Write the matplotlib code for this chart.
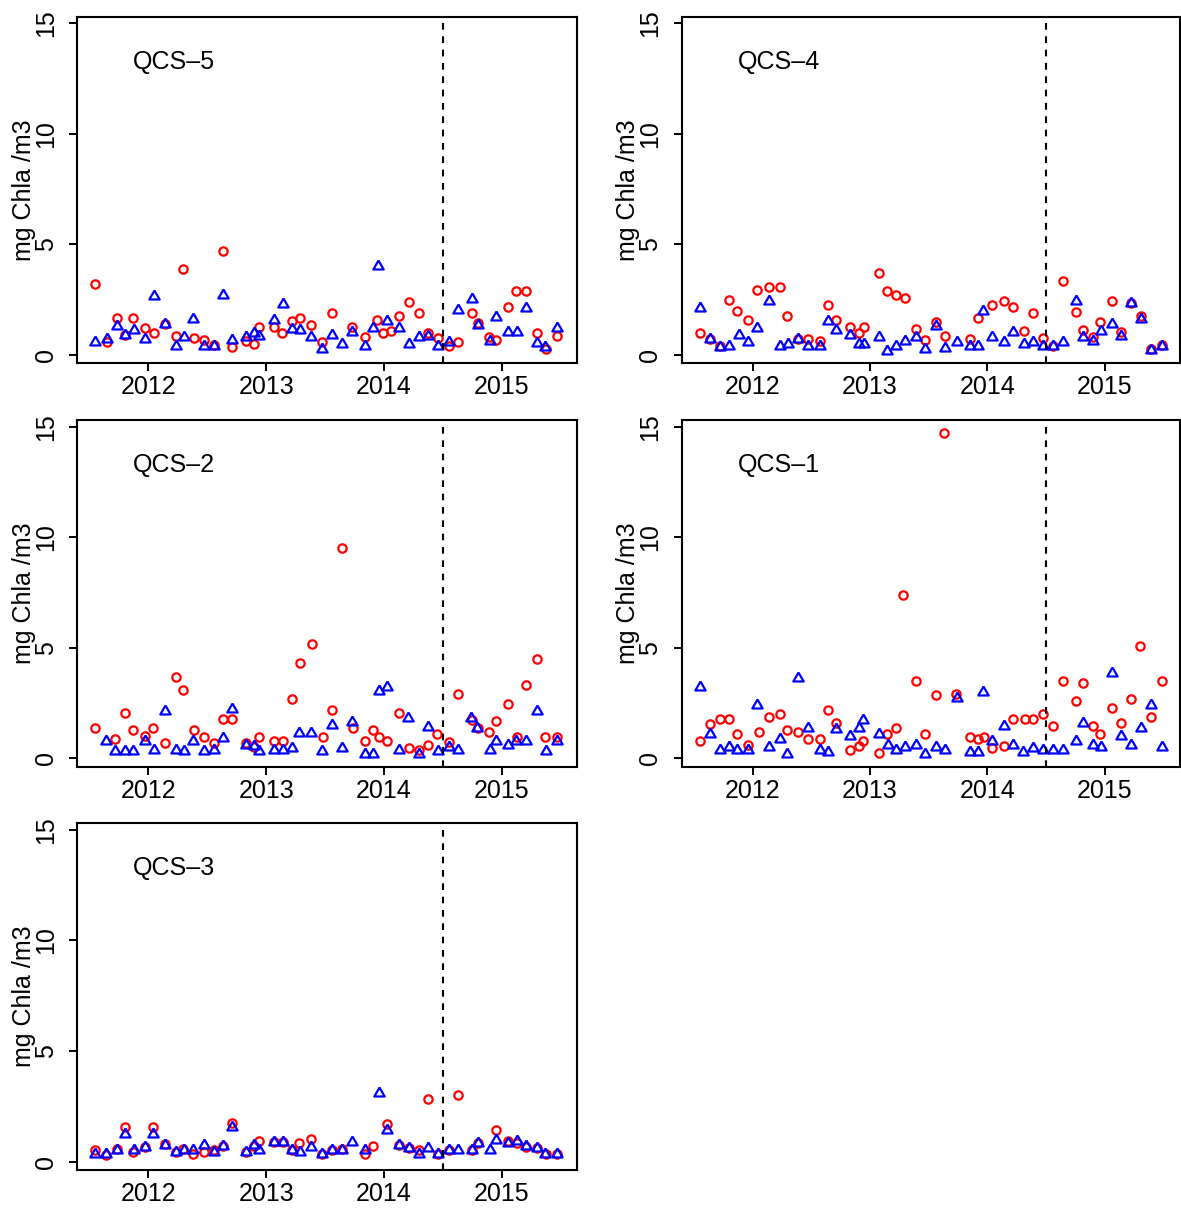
import matplotlib
matplotlib.use("Agg")
import matplotlib.pyplot as plt
from matplotlib.ticker import FixedLocator

plt.rcParams['font.family'] = ['Liberation Sans', 'DejaVu Sans']

# ---- data (decimal year, mg Chla /m3) ----
qcs5_red_t = [2011.55, 2011.65, 2011.73, 2011.80, 2011.87, 2011.97, 2012.05, 2012.14, 2012.23, 2012.29,
              2012.39, 2012.47, 2012.56, 2012.63, 2012.71, 2012.83, 2012.90, 2012.94, 2013.07, 2013.13,
              2013.22, 2013.29, 2013.38, 2013.47, 2013.56, 2013.73, 2013.84, 2013.94, 2013.99, 2014.06,
              2014.13, 2014.21, 2014.30, 2014.37, 2014.46, 2014.55, 2014.63, 2014.75, 2014.80, 2014.89,
              2014.95, 2015.05, 2015.12, 2015.21, 2015.30, 2015.38, 2015.47]
qcs5_red = [3.18, 0.59, 1.67, 0.91, 1.67, 1.20, 0.98, 1.39, 0.85, 3.86,
            0.77, 0.67, 0.44, 4.68, 0.33, 0.64, 0.48, 1.24, 1.26, 0.98,
            1.52, 1.67, 1.35, 0.59, 1.88, 1.27, 0.79, 1.58, 0.98, 1.09,
            1.77, 2.38, 1.88, 0.98, 0.74, 0.41, 0.58, 1.88, 1.44, 0.79,
            0.67, 2.15, 2.86, 2.86, 0.97, 0.26, 0.83]
qcs5_blue_t = [2011.55, 2011.65, 2011.73, 2011.80, 2011.88, 2011.97, 2012.05, 2012.14, 2012.23, 2012.30,
               2012.38, 2012.47, 2012.56, 2012.63, 2012.71, 2012.83, 2012.90, 2012.94, 2013.07, 2013.14,
               2013.22, 2013.29, 2013.38, 2013.47, 2013.56, 2013.64, 2013.73, 2013.84, 2013.91, 2013.95,
               2014.03, 2014.13, 2014.21, 2014.30, 2014.37, 2014.46, 2014.55, 2014.63, 2014.75, 2014.80,
               2014.90, 2014.95, 2015.05, 2015.13, 2015.21, 2015.30, 2015.37, 2015.47]
qcs5_blue = [0.59, 0.71, 1.32, 0.89, 1.12, 0.71, 2.64, 1.39, 0.41, 0.79,
             1.62, 0.41, 0.41, 2.71, 0.68, 0.82, 0.97, 0.86, 1.58, 2.30,
             1.17, 1.12, 0.79, 0.26, 0.89, 0.48, 1.02, 0.41, 1.21, 4.02,
             1.52, 1.21, 0.48, 0.82, 0.86, 0.41, 0.56, 2.03, 2.53, 1.36,
             0.64, 1.70, 1.05, 1.05, 2.11, 0.52, 0.33, 1.20]

qcs4_red_t = [2011.55, 2011.64, 2011.72, 2011.80, 2011.87, 2011.96, 2012.04, 2012.14, 2012.23, 2012.29,
              2012.39, 2012.47, 2012.57, 2012.64, 2012.71, 2012.83, 2012.91, 2012.95, 2013.08, 2013.14,
              2013.22, 2013.30, 2013.39, 2013.47, 2013.56, 2013.64, 2013.85, 2013.92, 2014.04, 2014.14,
              2014.22, 2014.31, 2014.39, 2014.47, 2014.56, 2014.64, 2014.75, 2014.81, 2014.90, 2014.96,
              2015.06, 2015.14, 2015.22, 2015.31, 2015.39, 2015.49]
qcs4_red = [0.97, 0.71, 0.41, 2.48, 2.00, 1.58, 2.95, 3.06, 3.06, 1.77,
            0.71, 0.71, 0.64, 2.27, 1.58, 1.24, 0.97, 1.27, 3.70, 2.86,
            2.68, 2.56, 1.17, 0.68, 1.47, 0.86, 0.71, 1.65, 2.27, 2.41,
            2.15, 1.09, 1.88, 0.74, 0.41, 3.32, 1.95, 1.12, 0.79, 1.50,
            2.41, 1.02, 2.35, 1.77, 0.26, 0.44]
qcs4_blue_t = [2011.55, 2011.64, 2011.72, 2011.80, 2011.88, 2011.96, 2012.04, 2012.14, 2012.23, 2012.30,
               2012.39, 2012.47, 2012.57, 2012.64, 2012.71, 2012.83, 2012.91, 2012.95, 2013.08, 2013.14,
               2013.22, 2013.30, 2013.39, 2013.47, 2013.56, 2013.64, 2013.74, 2013.85, 2013.92, 2013.96,
               2014.04, 2014.14, 2014.22, 2014.31, 2014.39, 2014.47, 2014.56, 2014.64, 2014.75, 2014.81,
               2014.90, 2014.97, 2015.06, 2015.14, 2015.22, 2015.31, 2015.39, 2015.49]
qcs4_blue = [2.11, 0.71, 0.36, 0.38, 0.89, 0.59, 1.21, 2.45, 0.38, 0.48,
             0.71, 0.38, 0.38, 1.52, 1.12, 0.89, 0.48, 0.48, 0.79, 0.15,
             0.38, 0.61, 0.79, 0.26, 1.32, 0.30, 0.59, 0.38, 0.38, 2.00,
             0.79, 0.59, 1.02, 0.48, 0.59, 0.38, 0.38, 0.59, 2.45, 0.82,
             0.64, 1.09, 1.39, 0.86, 2.33, 1.62, 0.21, 0.41]

qcs2_red_t = [2011.55, 2011.72, 2011.80, 2011.87, 2011.97, 2012.04, 2012.14, 2012.23, 2012.29, 2012.39,
              2012.47, 2012.56, 2012.63, 2012.71, 2012.83, 2012.90, 2012.94, 2013.07, 2013.14, 2013.22,
              2013.29, 2013.39, 2013.48, 2013.56, 2013.64, 2013.74, 2013.84, 2013.91, 2013.96, 2014.03,
              2014.13, 2014.21, 2014.30, 2014.37, 2014.45, 2014.55, 2014.63, 2014.75, 2014.80, 2014.89,
              2014.95, 2015.05, 2015.13, 2015.21, 2015.30, 2015.37, 2015.47]
qcs2_red = [1.38, 0.88, 2.06, 1.27, 1.00, 1.38, 0.70, 3.68, 3.08, 1.27,
            0.95, 0.70, 1.76, 1.76, 0.67, 0.50, 0.95, 0.77, 0.77, 2.67,
            4.29, 5.17, 0.95, 2.17, 9.51, 1.35, 0.77, 1.27, 0.95, 0.77,
            2.06, 0.47, 0.36, 0.58, 1.08, 0.73, 2.89, 1.71, 1.38, 1.20,
            1.68, 2.47, 0.95, 3.30, 4.48, 0.95, 0.95]
qcs2_blue_t = [2011.64, 2011.72, 2011.80, 2011.87, 2011.97, 2012.05, 2012.14, 2012.23, 2012.30, 2012.38,
               2012.47, 2012.56, 2012.63, 2012.71, 2012.83, 2012.90, 2012.94, 2013.07, 2013.14, 2013.22,
               2013.28, 2013.38, 2013.47, 2013.56, 2013.64, 2013.73, 2013.84, 2013.91, 2013.96, 2014.03,
               2014.13, 2014.20, 2014.30, 2014.37, 2014.46, 2014.55, 2014.63, 2014.74, 2014.79, 2014.90,
               2014.95, 2015.05, 2015.12, 2015.21, 2015.30, 2015.38, 2015.47]
qcs2_blue = [0.80, 0.32, 0.32, 0.32, 0.80, 0.39, 2.14, 0.39, 0.32, 0.80,
             0.32, 0.39, 0.92, 2.21, 0.59, 0.55, 0.32, 0.39, 0.39, 0.47,
             1.12, 1.12, 0.32, 1.50, 0.44, 1.64, 0.20, 0.20, 3.02, 3.20,
             0.39, 1.80, 0.20, 1.41, 0.32, 0.50, 0.39, 1.80, 1.35, 0.39,
             0.80, 0.62, 0.80, 0.80, 2.14, 0.32, 0.77]

qcs1_red_t = [2011.55, 2011.64, 2011.72, 2011.80, 2011.87, 2011.96, 2012.05, 2012.14, 2012.23, 2012.29,
              2012.39, 2012.47, 2012.57, 2012.64, 2012.71, 2012.83, 2012.91, 2012.94, 2013.08, 2013.14,
              2013.22, 2013.28, 2013.39, 2013.47, 2013.56, 2013.63, 2013.73, 2013.85, 2013.92, 2013.97,
              2014.04, 2014.14, 2014.22, 2014.32, 2014.39, 2014.47, 2014.56, 2014.64, 2014.75, 2014.81,
              2014.90, 2014.96, 2015.06, 2015.14, 2015.22, 2015.30, 2015.39, 2015.49]
qcs1_red = [0.77, 1.56, 1.79, 1.79, 1.08, 0.62, 1.18, 1.86, 1.98, 1.27,
            1.18, 0.88, 0.88, 2.17, 1.61, 0.39, 0.55, 0.77, 0.24, 1.08,
            1.38, 7.39, 3.50, 1.08, 2.86, 14.73, 2.92, 0.95, 0.85, 0.95,
            0.47, 0.55, 1.79, 1.79, 1.79, 1.98, 1.45, 3.50, 2.59, 3.39,
            1.45, 1.08, 2.26, 1.61, 2.70, 5.09, 1.88, 3.50]
qcs1_blue_t = [2011.55, 2011.64, 2011.72, 2011.80, 2011.87, 2011.96, 2012.04, 2012.14, 2012.23, 2012.29,
               2012.39, 2012.47, 2012.57, 2012.64, 2012.71, 2012.83, 2012.91, 2012.94, 2013.08, 2013.15,
               2013.22, 2013.30, 2013.39, 2013.47, 2013.56, 2013.64, 2013.74, 2013.85, 2013.92, 2013.96,
               2014.04, 2014.14, 2014.22, 2014.30, 2014.39, 2014.47, 2014.56, 2014.64, 2014.75, 2014.81,
               2014.90, 2014.97, 2015.06, 2015.14, 2015.22, 2015.31, 2015.39, 2015.49]
qcs1_blue = [3.20, 1.08, 0.39, 0.50, 0.39, 0.39, 2.39, 0.50, 0.85, 0.21,
             3.61, 1.38, 0.39, 0.29, 1.30, 1.00, 1.38, 1.71, 1.11, 0.58,
             0.39, 0.50, 0.58, 0.20, 0.50, 0.39, 2.71, 0.27, 0.27, 3.00,
             0.77, 1.45, 0.58, 0.27, 0.47, 0.39, 0.39, 0.39, 0.80, 1.61,
             0.62, 0.50, 3.85, 1.00, 0.58, 1.38, 2.39, 0.50]

qcs3_red_t = [2011.55, 2011.64, 2011.73, 2011.80, 2011.87, 2011.97, 2012.04, 2012.14, 2012.23, 2012.29,
              2012.38, 2012.47, 2012.56, 2012.63, 2012.71, 2012.83, 2012.90, 2012.94, 2013.07, 2013.14,
              2013.22, 2013.28, 2013.38, 2013.47, 2013.56, 2013.64, 2013.84, 2013.91, 2014.03, 2014.13,
              2014.21, 2014.30, 2014.37, 2014.46, 2014.55, 2014.63, 2014.75, 2014.80, 2014.95, 2015.05,
              2015.13, 2015.21, 2015.30, 2015.38, 2015.47]
qcs3_red = [0.53, 0.30, 0.58, 1.56, 0.42, 0.65, 1.56, 0.77, 0.45, 0.58,
            0.32, 0.42, 0.50, 0.68, 1.74, 0.42, 0.70, 0.92, 0.88, 0.88,
            0.53, 0.83, 1.03, 0.35, 0.50, 0.58, 0.35, 0.68, 1.71, 0.73,
            0.61, 0.53, 2.82, 0.35, 0.53, 3.03, 0.53, 0.83, 1.41, 0.92,
            0.83, 0.65, 0.61, 0.32, 0.35]
qcs3_blue_t = [2011.55, 2011.64, 2011.73, 2011.80, 2011.88, 2011.97, 2012.04, 2012.14, 2012.23, 2012.30,
               2012.38, 2012.47, 2012.56, 2012.63, 2012.71, 2012.83, 2012.90, 2012.94, 2013.07, 2013.14,
               2013.22, 2013.29, 2013.38, 2013.47, 2013.56, 2013.64, 2013.73, 2013.84, 2013.96, 2014.03,
               2014.13, 2014.21, 2014.30, 2014.37, 2014.46, 2014.55, 2014.63, 2014.75, 2014.80, 2014.90,
               2014.95, 2015.05, 2015.13, 2015.21, 2015.30, 2015.37, 2015.47]
qcs3_blue = [0.32, 0.32, 0.53, 1.26, 0.53, 0.65, 1.23, 0.76, 0.42, 0.53,
             0.50, 0.76, 0.42, 0.68, 1.56, 0.42, 0.73, 0.53, 0.88, 0.88,
             0.53, 0.42, 0.65, 0.32, 0.50, 0.50, 0.88, 0.50, 3.08, 1.41,
             0.73, 0.61, 0.35, 0.61, 0.35, 0.53, 0.53, 0.53, 0.83, 0.53,
             0.98, 0.83, 0.91, 0.68, 0.61, 0.35, 0.35]

panels = [
    ("QCS\u20135", qcs5_red_t, qcs5_red, qcs5_blue_t, qcs5_blue),
    ("QCS\u20134", qcs4_red_t, qcs4_red, qcs4_blue_t, qcs4_blue),
    ("QCS\u20132", qcs2_red_t, qcs2_red, qcs2_blue_t, qcs2_blue),
    ("QCS\u20131", qcs1_red_t, qcs1_red, qcs1_blue_t, qcs1_blue),
    ("QCS\u20133", qcs3_red_t, qcs3_red, qcs3_blue_t, qcs3_blue),
]
years = [2012, 2013, 2014, 2015]
yticks = [0, 5, 10, 15]
split_date = 2014.5

# ---- layout (pixel boxes of the original R figure) ----
W, H = 1181, 1208
col_left = [77.3, 681.7]
col_width = [499.2, 497.8]
row_top = [16.5, 420.0, 823.3]
row_height = 346.5

tri = [(0, 1.0), (-0.866, -0.5), (0.866, -0.5), (0, 1.0)]

fig = plt.figure(figsize=(W / 100, H / 100), dpi=100)

for i, (name, rt, rv, bt, bv) in enumerate(panels):
    r, c = divmod(i, 2)
    rect = [col_left[c] / W, 1 - (row_top[r] + row_height) / H,
            col_width[c] / W, row_height / H]
    ax = fig.add_axes(rect)

    ax.plot(rt, rv, linestyle='none', marker='o', ms=6.0, mfc='none',
            mec='#ff0000', mew=1.6)
    ax.plot(bt, bv, linestyle='none', marker=tri, ms=8.6, mfc='none',
            mec='#0000ff', mew=1.6)
    ax.axvline(split_date, color='black', lw=1.5, dashes=(3.2, 3.2))

    ax.set_xlim(2011.396, 2015.635)
    ax.set_ylim(-0.375, 15.3)
    ax.xaxis.set_major_locator(FixedLocator(years))
    ax.yaxis.set_major_locator(FixedLocator(yticks))
    ax.set_xticklabels([str(y) for y in years])
    ax.set_yticklabels([str(v) for v in yticks], rotation=90, va='center')
    ax.tick_params(axis='both', labelsize=18, length=6, width=1.4,
                   direction='out', color='black')
    ax.tick_params(axis='x', pad=3)
    ax.tick_params(axis='y', pad=8)
    for s in ax.spines.values():
        s.set_linewidth(1.5)

    ax.text(0.112, 0.870, name, transform=ax.transAxes, fontsize=18,
            ha='left', va='center')
    ax.text(-0.107, 0.5, "mg Chla /m3", transform=ax.transAxes, fontsize=18,
            rotation=90, ha='center', va='center')

fig.savefig("out.png", dpi=100)
